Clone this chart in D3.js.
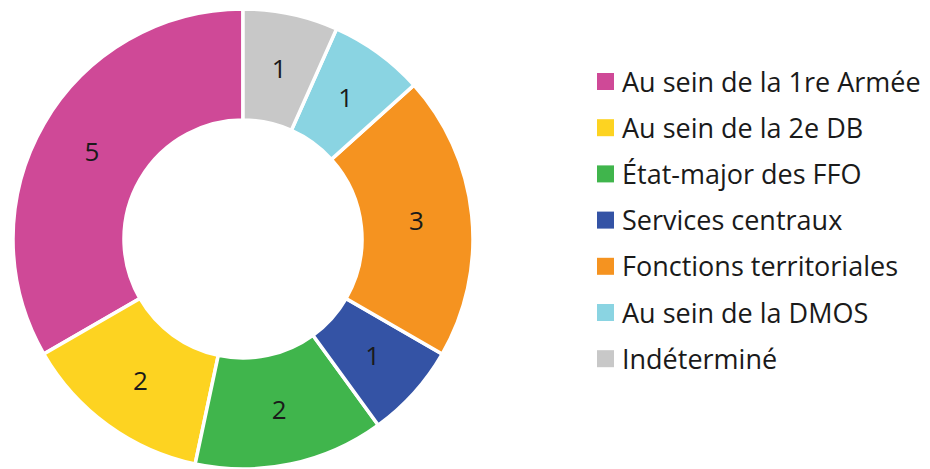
<!DOCTYPE html>
<html>
<head>
<meta charset="utf-8">
<script src="https://cdn.jsdelivr.net/npm/d3@7"></script>
<style>
  body { margin: 0; background: #fff; }
  text { font-family: "Open Sans", sans-serif; fill: #1a1a1a; }
</style>
</head>
<body>
<script>
var width = 930, height = 469;

// data, in legend order
var categories = ["Au sein de la 1re Armée", "Au sein de la 2e DB", "État-major des FFO",
                  "Services centraux", "Fonctions territoriales", "Au sein de la DMOS", "Indéterminé"];
var values = [5, 2, 2, 1, 3, 1, 1];
var colors = ["#cf4997", "#fdd321", "#40b54c", "#3453a5", "#f59320", "#8ad4e2", "#c8c8c8"];

var data = categories.map(function(c, i) { return {name: c, value: values[i], color: colors[i]}; });

var svg = d3.select("body")
            .append("svg")
            .attr("width", width)
            .attr("height", height);

var cx = 243, cy = 239, outer = 230, inner = 119;

// first category ends at 12 o'clock, the rest go counter-clockwise
var pie = d3.pie()
            .sort(null)
            .value(function(d) { return d.value; })
            .startAngle(0)
            .endAngle(-2 * Math.PI);

var arc = d3.arc()
            .innerRadius(inner)
            .outerRadius(outer);

var g = svg.append("g")
           .attr("transform", "translate(" + cx + "," + cy + ")");

var slices = g.selectAll("g.slice")
              .data(pie(data))
              .enter()
              .append("g")
              .attr("class", "slice");

slices.append("path")
      .attr("d", arc)
      .attr("fill", function(d) { return d.data.color; })
      .attr("stroke", "#fff")
      .attr("stroke-width", 3.5);

slices.append("text")
      .attr("transform", function(d) { return "translate(" + arc.centroid(d) + ")"; })
      .attr("text-anchor", "middle")
      .attr("dy", "0.36em")
      .attr("font-size", "26px")
      .text(function(d) { return d.data.value; });

// legend
var legend = svg.append("g")
                .attr("class", "legend")
                .attr("transform", "translate(597,81.5)");

var rows = legend.selectAll("g")
                 .data(data)
                 .enter()
                 .append("g")
                 .attr("transform", function(d, i) { return "translate(0," + (i * 46.2) + ")"; });

rows.append("rect")
    .attr("x", 0)
    .attr("y", -8.5)
    .attr("width", 17)
    .attr("height", 17)
    .attr("fill", function(d) { return d.color; });

rows.append("text")
    .attr("x", 25)
    .attr("y", 10)
    .attr("font-size", "27px")
    .text(function(d) { return d.name; });
</script>
</body>
</html>
